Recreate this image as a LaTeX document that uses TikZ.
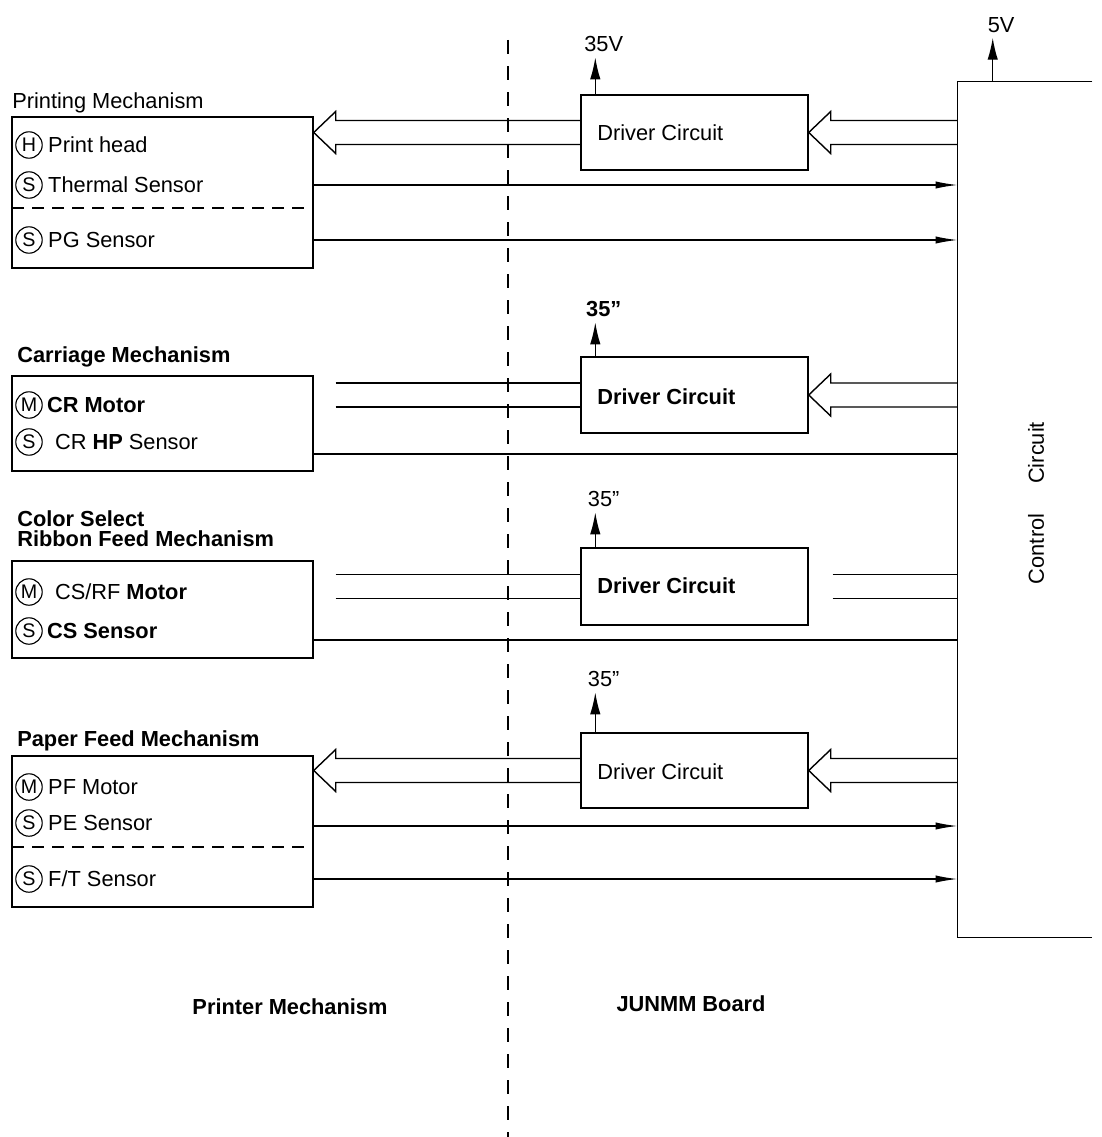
\documentclass[tikz,border=0pt]{standalone}
\usepackage{fontspec}
\setmainfont{Liberation Sans}
\usetikzlibrary{arrows.meta,positioning,calc,fit}
\newcommand{\basefont}{\fontsize{15.5}{18}\selectfont}
\tikzset{
  blk/.style={draw,line width=1pt,inner sep=0pt},
  lbl/.style={anchor=west,inner sep=0pt},
  bld/.style={font=\basefont\bfseries},
  txt/.style={inner sep=0pt},
  sym/.style={circle,draw,line width=0.8pt,inner sep=0pt,minimum size=6.6mm,
    font=\fontsize{14}{16}\selectfont},
  sig/.style={line width=1pt,-{Latex[length=5.5mm,width=1.8mm]}},
  wire/.style={line width=1pt},
  thk/.style={line width=1.6pt},
  bus/.style={line width=1pt,line join=miter},
  pwr/.style={line width=1pt,-{Latex[length=5.5mm,width=2.6mm]}},
  sep/.style={line width=0.8pt,dash pattern=on 0.35cm off 0.3cm},
  div/.style={line width=0.8pt,dash pattern=on 0.3cm off 0.2cm},
}
% hollow bus arrow: #1 tail, #2 tip (same height)
\newcommand{\busarr}[2]{%
  \draw[bus] ($(#1)+(0,-12)$) -- ($(#2)+(22,-12)$) -- ($(#2)+(22,-21)$) -- (#2)
    -- ($(#2)+(22,21)$) -- ($(#2)+(22,12)$) -- ($(#1)+(0,12)$);}

\begin{document}
\begin{tikzpicture}[x=0.025cm,y=-0.025cm,font=\basefont]
  \useasboundingbox (0,0) rectangle (1101,1137);
  % border between mechanism and board
  \draw[sep] (508,40) -- (508,1137);

  % control circuit
  \node[inner sep=0pt,fit={(958,82)(1092,937)}] (cc) {};
  \draw[line width=1pt] (cc.north east) -- (cc.north west) -- (cc.south west) -- (cc.south east);
  \node[rotate=90] (cct) at (1036,503) {Control\hspace{0.75cm}Circuit};
  \draw[pwr] ($(cc.north west)+(35,0)$) -- ++(0,-44) node[above,xshift=6pt] (v5) {5V};

  % printing mechanism
  \node[lbl] (tpm) at (12,103) {Printing Mechanism};
  \node[blk,fit={(12,117)(313,268)}] (pm) {};
  \draw[div] (12,208) -- (pm.east |- 0,208);
  \node[sym] (s1) at (29,145) {H};
  \node[txt,right=1.3mm of s1] (ph) {Print head};
  \node[sym] (s2) at (29,185) {S};
  \node[txt,right=1.3mm of s2] (th) {Thermal Sensor};
  \node[sym] (s3) at (29,240) {S};
  \node[txt,right=1.3mm of s3] (pg) {PG Sensor};

  \node[blk,fit={(581,95)(808,170)}] (d1) {};
  \node[lbl] at (597,133) {Driver Circuit};
  \draw[pwr] ($(d1.north west)+(15,0)$) -- ++(0,-37) node[above,xshift=6pt] (v1) {35V};
  \coordinate (t1) at (pm.east |- d1.west);
  \coordinate (r1) at (cc.west |- d1.east);
  \busarr{d1.west}{t1}
  \busarr{r1}{d1.east}
  \draw[sig] (th -| pm.east) -- (th -| cc.west);
  \draw[sig] (pg -| pm.east) -- (pg -| cc.west);
  \draw[thk] (pg -| d1.west) -- (pg -| d1.east);

  % carriage mechanism
  \node[lbl,bld] (tcm) at (17,357) {Carriage Mechanism};
  \node[blk,fit={(12,376)(313,471)}] (cm) {};
  \node[sym] (s4) at (29,405) {M};
  \node[txt,right=1mm of s4] (crm) {\textbf{CR Motor}};
  \node[sym] (s5) at (29,442) {S};
  \node[txt,right=3mm of s5] (hp) {CR \textbf{HP} Sensor};

  \node[blk,fit={(581,357)(808,433)}] (d2) {};
  \node[lbl,bld] at (597,397) {Driver Circuit};
  \draw[pwr] ($(d2.north west)+(15,0)$) -- ++(0,-34) node[above,xshift=6pt,bld] (v2) {35”};
  \coordinate (r2) at (cc.west |- d2.east);
  \coordinate (l2) at (cm.east |- d2.west);
  \draw[wire] ($(l2)+(22,-12)$) -- ($(d2.west)+(0,-12)$);
  \draw[wire] ($(l2)+(22,12)$) -- ($(d2.west)+(0,12)$);
  \busarr{r2}{d2.east}
  \draw[thk] ($(hp -| cm.east)+(0,12)$) -- ($(hp -| cc.west)+(0,12)$);

  % color select / ribbon feed mechanism
  \node[lbl,font=\fontsize{15.5}{14.5}\selectfont\bfseries,align=left] (tcs) at (17,529)
    {Color Select\\Ribbon Feed Mechanism};
  \node[blk,fit={(12,561)(313,658)}] (cs) {};
  \node[sym] (s6) at (29,592) {M};
  \node[txt,right=3mm of s6] (rfm) {CS/RF \textbf{Motor}};
  \node[sym] (s7) at (29,631) {S};
  \node[txt,right=1mm of s7] (css) {\textbf{CS Sensor}};

  \node[blk,fit={(581,548)(808,625)}] (d3) {};
  \node[lbl,bld] at (597,586) {Driver Circuit};
  \draw[pwr] ($(d3.north west)+(15,0)$) -- ++(0,-35) node[above,xshift=6pt] (v3) {35”};
  \coordinate (r3) at (cc.west |- d3.east);
  \coordinate (l3) at (cs.east |- d3.west);
  \draw[wire] ($(l3)+(22,-12)$) -- ($(d3.west)+(0,-12)$);
  \draw[wire] ($(l3)+(22,12)$) -- ($(d3.west)+(0,12)$);
  \draw[wire] ($(d3.east)+(24,-12)$) -- ($(r3)+(0,-12)$);
  \draw[wire] ($(d3.east)+(24,12)$) -- ($(r3)+(0,12)$);
  \draw[thk] ($(css -| cs.east)+(0,9)$) -- ($(css -| cc.west)+(0,9)$);

  % paper feed mechanism
  \node[lbl,bld] (tpf) at (17,741) {Paper Feed Mechanism};
  \node[blk,fit={(12,756)(313,907)}] (pf) {};
  \draw[div] (12,847) -- (pf.east |- 0,847);
  \node[sym] (s8) at (29,787) {M};
  \node[txt,right=1.3mm of s8] (pfm) {PF Motor};
  \node[sym] (s9) at (29,823) {S};
  \node[txt,right=1.3mm of s9] (pe) {PE Sensor};
  \node[sym] (s10) at (29,879) {S};
  \node[txt,right=1.3mm of s10] (ft) {F/T Sensor};

  \node[blk,fit={(581,733)(808,808)}] (d4) {};
  \node[lbl] at (597,772) {Driver Circuit};
  \draw[pwr] ($(d4.north west)+(15,0)$) -- ++(0,-40) node[above,xshift=6pt] (v4) {35”};
  \coordinate (t4) at (pf.east |- d4.west);
  \coordinate (r4) at (cc.west |- d4.east);
  \busarr{d4.west}{t4}
  \busarr{r4}{d4.east}
  \draw[sig] ($(pe -| pf.east)+(0,3)$) -- ($(pe -| cc.west)+(0,3)$);
  \draw[sig] (ft -| pf.east) -- (ft -| cc.west);

  % sides
  \node[bld] (side1) at (290,1007) {Printer Mechanism};
  \node[bld] (side2) at (691,1004) {JUNMM Board};
\end{tikzpicture}
\end{document}
